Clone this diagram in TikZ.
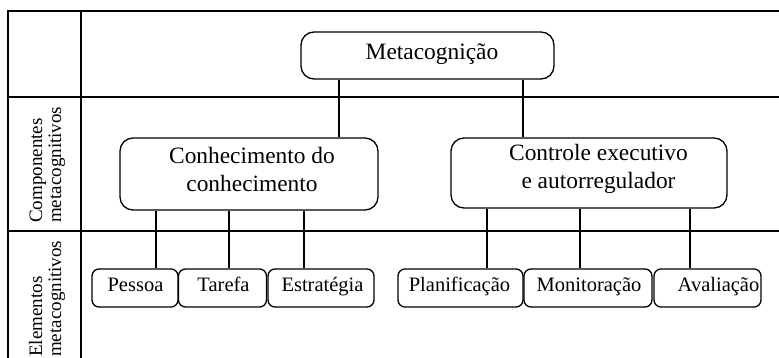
\documentclass[tikz,border=0pt]{standalone}
\usepackage{fontspec}
\setmainfont{Liberation Serif}
\begin{document}
\begin{tikzpicture}[x=1pt,y=-1pt,
  grid/.style={line width=1.3pt},
  link/.style={line width=1.3pt},
  hbox/.style={draw, line width=1.3pt, rounded corners=13pt, inner sep=0pt},
  ebox/.style={draw, line width=1.3pt, rounded corners=7pt, inner sep=0pt, minimum height=38pt},
  htext/.style={anchor=base, inner sep=0pt, font=\fontsize{23.4}{28}\selectfont},
  etext/.style={anchor=base, inner sep=0pt, font=\fontsize{20.5}{24}\selectfont},
  side/.style={rotate=90, anchor=base west, inner sep=0pt, font=\fontsize{19}{19}\selectfont}]
\useasboundingbox (0,0) rectangle (779,358);
% table
\draw[grid] (779,11) -- (8,11) -- (8,358);
\draw[grid] (81,11) -- (81,358);
\draw[grid] (8,97) -- (779,97);
\draw[grid] (8,231) -- (779,231);
% side labels
\node[side] (lcomp) at (42,223) {\begin{tabular}[t]{@{}l@{}}Componentes\\metacognitivos\end{tabular}};
\node[side] (lelem) at (42,357) {\begin{tabular}[t]{@{}l@{}}Elementos\\metacognitivos\end{tabular}};
% boxes
\node[hbox, minimum width=253pt, minimum height=47pt] (meta) at (427.5,55.5) {};
\node[hbox, minimum width=258pt, minimum height=72pt] (conh) at (249,174) {};
\node[hbox, minimum width=276pt, minimum height=70pt] (ctrl) at (589,173) {};
\node[ebox, minimum width=86pt] (pes) at (135,288) {};
\node[ebox, minimum width=88pt] (tar) at (222.5,288) {};
\node[ebox, minimum width=106pt] (est) at (321,288) {};
\node[ebox, minimum width=125pt] (pla) at (460.5,288) {};
\node[ebox, minimum width=128pt] (mon) at (588,288) {};
\node[ebox, minimum width=107pt] (ava) at (707.5,288) {};
% texts
\node[htext] (tmeta) at (432,60) {Metacognição};
\node[htext] (tconh) at (252,164) {\begin{tabular}[t]{@{}c@{}}Conhecimento do\\conhecimento\end{tabular}};
\node[htext] (tctrl) at (598.5,161) {\begin{tabular}[t]{@{}c@{}}Controle executivo\\e autorregulador\end{tabular}};
\node[etext] (tpes) at (135.5,291) {Pessoa};
\node[etext] (ttar) at (223.5,291) {Tarefa};
\node[etext] (test) at (322.5,291) {Estratégia};
\node[etext] (tpla) at (459.5,291) {Planificação};
\node[etext] (tmon) at (589,291) {Monitoração};
\node[etext] (tava) at (718.5,291) {Avaliação};
% connectors
\draw[link] (339,0 |- meta.south) -- (339,0 |- conh.north);
\draw[link] (523,0 |- meta.south) -- (523,0 |- ctrl.north);
\draw[link] (156,0 |- conh.south) -- (156,0 |- pes.north);
\draw[link] (229,0 |- conh.south) -- (229,0 |- tar.north);
\draw[link] (304,0 |- conh.south) -- (304,0 |- est.north);
\draw[link] (487,0 |- ctrl.south) -- (487,0 |- pla.north);
\draw[link] (580,0 |- ctrl.south) -- (580,0 |- mon.north);
\draw[link] (690,0 |- ctrl.south) -- (690,0 |- ava.north);
\end{tikzpicture}
\end{document}
